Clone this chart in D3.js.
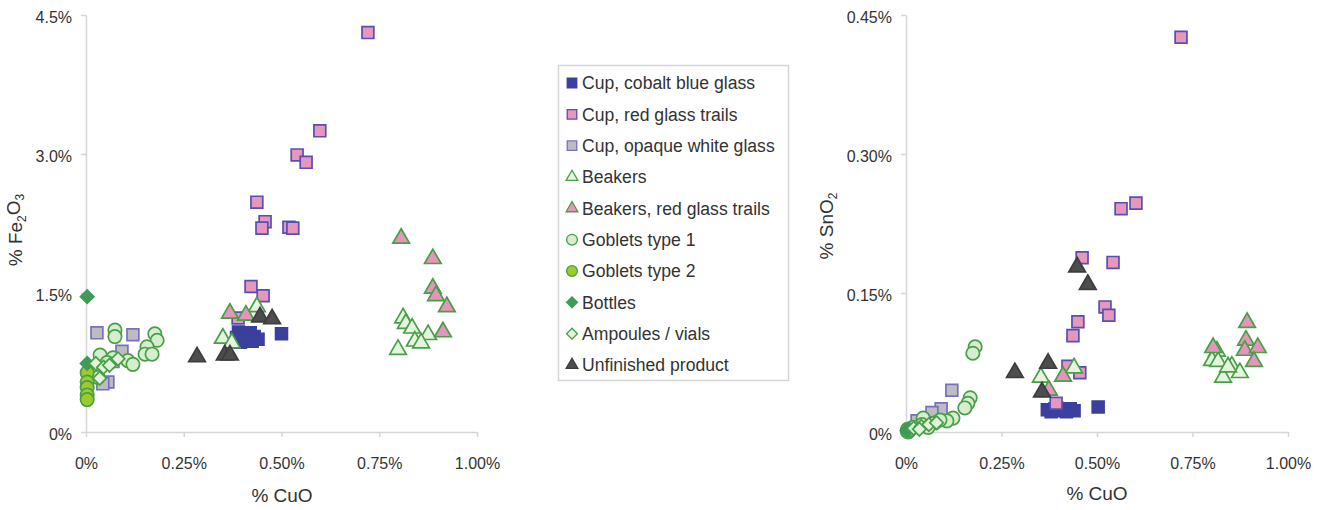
<!DOCTYPE html>
<html>
<head>
<meta charset="utf-8">
<script src="https://cdn.jsdelivr.net/npm/d3@7"></script>
<style>
  body { margin: 0; background: #fff; }
  text { font-family: "Liberation Sans", Arial, sans-serif; fill: #333; }
</style>
</head>
<body>
<svg id="chart" width="1336" height="510"></svg>
<script>
// ---- Series (legend order) ----
const seriesNames = [
  "Cup, cobalt blue glass",
  "Cup, red glass trails",
  "Cup, opaque white glass",
  "Beakers",
  "Beakers, red glass trails",
  "Goblets type 1",
  "Goblets type 2",
  "Bottles",
  "Ampoules / vials",
  "Unfinished product"
];

// ---- Measurements: [% CuO, % Fe2O3] ----
const cobaltFe = [[0.385,1.02],[0.39,1.08],[0.395,0.97],[0.405,1.05],[0.41,0.99],[0.42,1.07],[0.425,0.98],[0.43,1.03],[0.44,1.00],[0.50,1.06]];
const redTrailsFe = [[0.721,4.31],[0.598,3.25],[0.540,2.99],[0.563,2.91],[0.437,2.48],[0.458,2.27],[0.450,2.20],[0.519,2.21],[0.529,2.20],[0.422,1.57],[0.453,1.47],[0.389,1.23]];
const opaqueWhiteFe = [[0.028,1.07],[0.120,1.05],[0.092,0.87],[0.069,0.76],[0.056,0.54],[0.043,0.52]];
const beakersFe = [[0.350,1.01],[0.373,0.96],[0.437,1.35],[0.811,1.23],[0.818,1.17],[0.834,1.12],[0.875,1.05],[0.841,0.98],[0.857,0.96],[0.798,0.89]];
const beakersRedFe = [[0.368,1.28],[0.409,1.26],[0.806,2.09],[0.887,1.87],[0.887,1.55],[0.895,1.47],[0.923,1.35],[0.913,1.08]];
const goblets1Fe = [[0.074,1.10],[0.074,1.03],[0.176,1.06],[0.182,0.99],[0.156,0.92],[0.151,0.84],[0.169,0.84],[0.036,0.83],[0.069,0.80],[0.107,0.77],[0.120,0.73],[0.023,0.66],[0.031,0.59],[0.054,0.75]];
const goblets2Fe = [[0.003,0.64],[0.003,0.54],[0.003,0.48],[0.003,0.40],[0.003,0.35]];
const bottlesFe = [[0.003,1.46],[0.003,0.74]];
const ampoulesFe = [[0.025,0.74],[0.045,0.70],[0.060,0.72],[0.082,0.79],[0.035,0.58]];
const unfinishedFe = [[0.284,0.81],[0.355,0.83],[0.368,0.83],[0.445,1.24],[0.476,1.22]];

// ---- Measurements: [% CuO, % SnO2] ----
const cobaltSn = [[0.37,0.024],[0.38,0.022],[0.39,0.025],[0.395,0.026],[0.40,0.023],[0.41,0.024],[0.42,0.022],[0.43,0.025],[0.44,0.023],[0.503,0.027]];
const redTrailsSn = [[0.720,0.426],[0.602,0.247],[0.563,0.241],[0.461,0.188],[0.542,0.183],[0.521,0.135],[0.531,0.126],[0.450,0.119],[0.437,0.104],[0.424,0.071],[0.455,0.064],[0.393,0.031]];
const opaqueWhiteSn = [[0.029,0.012],[0.120,0.045],[0.092,0.025],[0.068,0.021],[0.056,0.010],[0.043,0.008]];
const beakersSn = [[0.353,0.059],[0.440,0.069],[0.814,0.087],[0.801,0.077],[0.817,0.076],[0.853,0.071],[0.874,0.064],[0.830,0.059],[0.843,0.070]];
const beakersRedSn = [[0.411,0.060],[0.374,0.045],[0.893,0.118],[0.890,0.099],[0.887,0.088],[0.921,0.091],[0.911,0.076],[0.804,0.091]];
const goblets1Sn = [[0.181,0.092],[0.175,0.085],[0.168,0.037],[0.162,0.031],[0.154,0.026],[0.123,0.015],[0.107,0.012],[0.076,0.010],[0.045,0.015],[0.042,0.008],[0.018,0.005],[0.058,0.005],[0.089,0.013]];
const goblets2Sn = [[0.003,0.001],[0.005,0.002],[0.004,0.003],[0.006,0.000],[0.008,0.002]];
const bottlesSn = [[0.003,0.002],[0.006,0.003]];
const ampoulesSn = [[0.020,0.004],[0.040,0.006],[0.060,0.008],[0.080,0.010],[0.035,0.003]];
const unfinishedSn = [[0.285,0.064],[0.356,0.043],[0.372,0.074],[0.448,0.178],[0.476,0.159]];

// ---- Axis ticks ----
const cuoTicks = [0, 0.25, 0.5, 0.75, 1.0];
const cuoTickLabels = ["0%", "0.25%", "0.50%", "0.75%", "1.00%"];
const feTicks = [0, 1.5, 3.0, 4.5];
const feTickLabels = ["0%", "1.5%", "3.0%", "4.5%"];
const snTicks = [0, 0.15, 0.30, 0.45];
const snTickLabels = ["0%", "0.15%", "0.30%", "0.45%"];

// ---- Marker styles per series ----
const BLUE_EDGE = "#5650b4", GREEN_EDGE = "#47a047";
const markerStyle = [
  { shape: "square",   fill: "#3b3f9e", stroke: "#3b3f9e" },
  { shape: "square",   fill: "#e597bd", stroke: BLUE_EDGE },
  { shape: "square",   fill: "#bdbdbd", stroke: "#7470c8" },
  { shape: "triangle", fill: "#e6f3df", stroke: GREEN_EDGE },
  { shape: "triangle", fill: "#e595bb", stroke: GREEN_EDGE },
  { shape: "circle",   fill: "#d8edd0", stroke: GREEN_EDGE },
  { shape: "circle",   fill: "#9dcb2e", stroke: GREEN_EDGE },
  { shape: "diamond",  fill: "#3f9a58", stroke: "#3f9a58" },
  { shape: "diamond",  fill: "#e2f2dc", stroke: GREEN_EDGE },
  { shape: "triangle", fill: "#4d4d4d", stroke: "#3d3d3d" }
];

const feData = [cobaltFe, redTrailsFe, opaqueWhiteFe, beakersFe, beakersRedFe, goblets1Fe, goblets2Fe, bottlesFe, ampoulesFe, unfinishedFe];
const snData = [cobaltSn, redTrailsSn, opaqueWhiteSn, beakersSn, beakersRedSn, goblets1Sn, goblets2Sn, bottlesSn, ampoulesSn, unfinishedSn];

const svg = d3.select("#chart");
const AXIS_COLOR = "#d6d6d6";

function symbolPath(shape, scale) {
  const k = scale || 1;
  if (shape === "square")   return d3.symbol(d3.symbolSquare, 140 * k)();
  if (shape === "triangle") return d3.symbol(d3.symbolTriangle, 120 * k)();
  if (shape === "circle")   return d3.symbol(d3.symbolCircle, 140 * k)();
  return d3.symbol(d3.symbolSquare, 90 * k)(); // diamond = rotated square
}

function drawPanel(cfg) {
  const x = d3.scaleLinear().domain([0, 1]).range(cfg.xRange);
  const y = d3.scaleLinear().domain(cfg.yDomain).range([432, 15]);
  const g = svg.append("g");

  // y axis
  const yAxis = d3.axisLeft(y).tickValues(cfg.yTicks).tickSize(5).tickSizeOuter(0)
    .tickFormat((d, i) => cfg.yTickLabels[i]).tickPadding(9);
  const ya = g.append("g").attr("transform", `translate(${cfg.xRange[0]},0)`).call(yAxis);
  // x axis
  const xAxis = d3.axisBottom(x).tickValues(cuoTicks).tickSize(5).tickSizeOuter(0)
    .tickFormat((d, i) => cuoTickLabels[i]).tickPadding(21);
  const xa = g.append("g").attr("transform", "translate(0,432)").call(xAxis);

  [ya, xa].forEach(a => {
    a.select(".domain").attr("stroke", AXIS_COLOR).attr("stroke-width", 1.5);
    a.selectAll(".tick line").attr("stroke", AXIS_COLOR).attr("stroke-width", 1.5);
    a.selectAll(".tick text").style("font-family", '"Liberation Sans", Arial, sans-serif')
      .style("font-size", "16px").attr("fill", "#333");
  });
  ya.selectAll(".tick text").attr("dy", "0.45em");

  // markers
  cfg.data.forEach((pts, si) => {
    const st = markerStyle[si];
    g.append("g").selectAll("path").data(pts).join("path")
      .attr("d", symbolPath(st.shape))
      .attr("transform", d => `translate(${x(d[0])},${y(d[1])})` + (st.shape === "diamond" ? " rotate(45)" : ""))
      .attr("fill", st.fill).attr("stroke", st.stroke).attr("stroke-width", 1.7);
  });

  // axis titles
  g.append("text").attr("x", cfg.xTitlePos[0]).attr("y", cfg.xTitlePos[1])
    .attr("text-anchor", "middle").style("font-size", "19px").text("% CuO");
  const yt = g.append("text")
    .attr("transform", `translate(${cfg.yTitlePos[0]},${cfg.yTitlePos[1]}) rotate(-90)`)
    .attr("text-anchor", "middle").style("font-size", "19px");
  cfg.yTitle.forEach(part => {
    const ts = yt.append("tspan").text(part.t);
    if (part.sub) ts.attr("dy", "0.3em").style("font-size", "12px");
    else if (part.after) ts.attr("dy", "-0.3em");
  });
}

drawPanel({
  xRange: [86, 477], yDomain: [0, 4.5], yTicks: feTicks, yTickLabels: feTickLabels,
  data: feData, xTitlePos: [282, 502], yTitlePos: [22, 230],
  yTitle: [{ t: "% Fe" }, { t: "2", sub: true }, { t: "O", after: true }, { t: "3", sub: true }]
});
drawPanel({
  xRange: [906, 1288], yDomain: [0, 0.45], yTicks: snTicks, yTickLabels: snTickLabels,
  data: snData, xTitlePos: [1097, 500], yTitlePos: [833, 226],
  yTitle: [{ t: "% SnO" }, { t: "2", sub: true }]
});

// ---- Legend ----
const legend = svg.append("g");
legend.append("rect").attr("x", 558.5).attr("y", 65.5).attr("width", 230).attr("height", 315)
  .attr("fill", "#fff").attr("stroke", "#d6d6d6").attr("stroke-width", 1.5);
const rowY = d3.scalePoint().domain(seriesNames).range([83, 365]);
const item = legend.selectAll("g.item").data(seriesNames).join("g").attr("class", "item")
  .attr("transform", d => `translate(0,${rowY(d)})`);
item.append("path")
  .attr("d", (d, i) => symbolPath(markerStyle[i].shape, markerStyle[i].shape === "triangle" ? 0.5 : 0.65))
  .attr("transform", (d, i) => "translate(572,0)" + (markerStyle[i].shape === "diamond" ? " rotate(45)" : ""))
  .attr("fill", (d, i) => markerStyle[i].fill)
  .attr("stroke", (d, i) => markerStyle[i].stroke).attr("stroke-width", 1.3);
item.append("text").attr("x", 582).attr("dy", "0.36em").style("font-size", "17.6px").text(d => d);
</script>
</body>
</html>
